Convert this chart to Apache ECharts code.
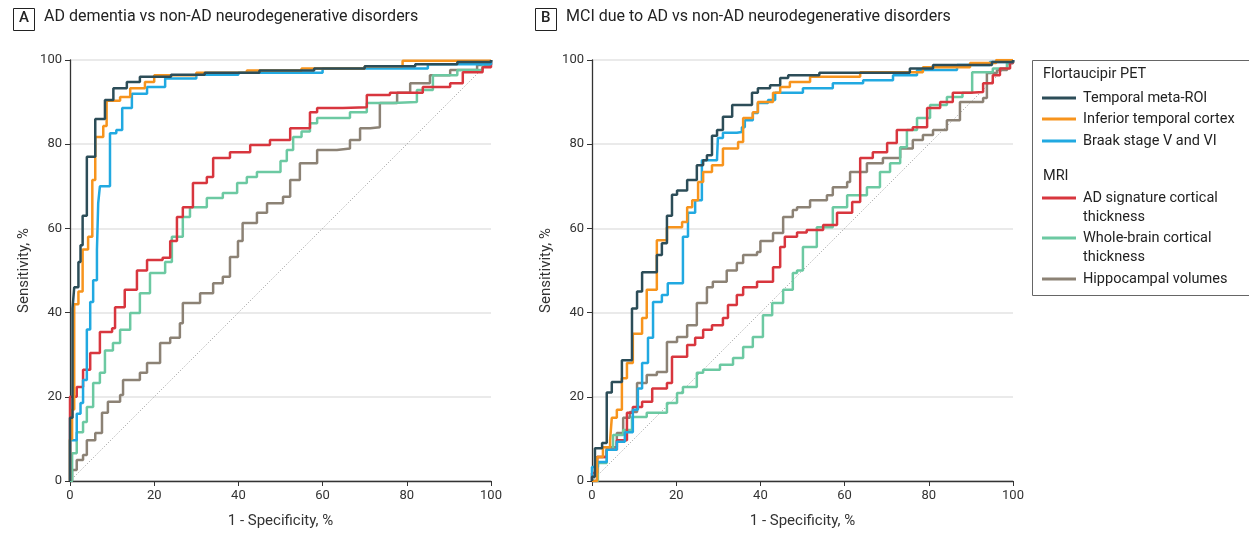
<!DOCTYPE html>
<html>
<head>
<meta charset="utf-8">
<script src="https://cdn.jsdelivr.net/npm/echarts@6/dist/echarts.min.js"></script>
<style>
  html, body { margin: 0; padding: 0; background: #fff; }
  #chart { width: 1249px; height: 539px; }
</style>
</head>
<body>
<div id="chart"></div>
<script>
// 曲线数据: [1 - specificity %, sensitivity %], 阶梯(step end)
var seriesNames = ['Temporal meta-ROI', 'Inferior temporal cortex', 'Braak stage V and VI',
  'AD signature cortical thickness', 'Whole-brain cortical thickness', 'Hippocampal volumes'];
var seriesColors = ['#2c4d58', '#f7941d', '#21a9e1', '#d8363e', '#6cc9a2', '#8c8275'];
var axisTicks = [0, 20, 40, 60, 80, 100];
var chanceLine = [[0, 0], [100, 100]];

// A: AD dementia vs non-AD
var darkA = [[0,0],[0,15],[0.6,41],[1,46],[2,52],[2.5,56],[3,63],[4,77],[6,86],[8.3,90.5],[10.3,93.3],[13.5,94.8],[16.6,96],[24,96.5],[32,97],[45,97.5],[58,98],[70,98.5],[82,99],[92,99.5],[100,100]];
var orangeA = [[0,0],[0,10],[0.5,17],[1,42],[2,45],[3,55],[4.3,58],[5.3,71.5],[6,81.7],[7.9,84.3],[8.7,90.3],[11.9,91.2],[14.3,93.3],[17.8,94.8],[20,96.4],[30,97],[42,97.5],[55,98],[70,98.5],[79,99.8],[100,100]];
var blueA = [[0,0],[0,9.7],[1.6,16],[2.5,18.5],[3.1,24],[4,36],[4.8,42.5],[5.5,47.7],[6.4,55],[6.7,66],[7.1,70],[9.5,82.6],[11,83.4],[12.4,88.6],[14.7,92],[18.3,93.6],[22.6,95.6],[30,96.5],[40,97],[60,98],[85,99],[100,100]];
var redA = [[0,0],[0,20],[1.6,22.3],[3.1,26.4],[4.8,30.4],[7.1,35.4],[10,36.3],[10.7,41.3],[13,45.4],[15.9,50],[18.3,52.5],[22,53],[23.8,57],[25.4,62.7],[26.8,65],[29.2,70.8],[32.5,72.2],[34,76.7],[38,78.1],[42.8,79.8],[47.5,81],[52.3,83.8],[57,87.6],[58.7,88.6],[64.8,88.8],[70.5,91.7],[76,92.2],[83.8,93.6],[90.3,94.5],[93.3,97.1],[98,98.3],[100,100]];
var greenA = [[0,0],[0.5,6.6],[1.6,11.6],[3.1,14],[4,17.6],[5.5,23.3],[7.1,25.7],[8.3,31],[10.2,32.8],[11.9,35.9],[14.3,39.9],[16.6,44.6],[19,49.4],[22.6,52],[24.2,58],[26.8,62.7],[28.5,65],[32.5,67.2],[36.3,68.4],[39.7,70.8],[42,72.2],[44.4,73.4],[50,76],[51.5,78.6],[53,81.7],[55,83],[57,85],[58.7,86.2],[66.5,87.6],[70.5,89.8],[76.7,90],[82.4,92.9],[86.2,96.4],[92,97.6],[98,99.3],[100,100]];
var brownA = [[0,0],[0.5,2.6],[1.6,5],[3.1,6.2],[4,9.7],[6,11.4],[7.6,16.2],[9,18.8],[11.9,20.4],[12.6,24],[16.6,25.7],[18.3,28],[21.4,32.8],[23.8,34],[26.1,37.5],[26.8,42.3],[30.9,44.6],[34,47],[36.3,48.5],[38,53.2],[39.9,57],[41,61.3],[44.4,63.7],[46.8,66],[50.6,67.5],[52.3,71.5],[54.6,75.5],[58.7,78.6],[63.4,79],[66.5,81],[68.9,83.8],[71.3,84],[73.6,89.8],[77.7,92.2],[80.8,94.5],[85.5,96.4],[90.3,97.6],[96.7,98.8],[100,100]];

// B: MCI due to AD vs non-AD
var darkB = [[0,0],[0,1],[0.7,7.8],[2.4,9],[3.5,21],[4.7,23.5],[7.1,28.7],[9.5,41],[10.7,45],[11.9,49.6],[15.4,53.7],[16.6,56.5],[17.8,63],[19,68],[20.2,69],[22.6,71.5],[24.9,75],[26.4,76.2],[27.3,77.4],[28.5,82],[29.7,83.4],[31.1,86.5],[33.3,89.3],[38,92.2],[39.4,93.3],[42.3,94],[44.7,95.7],[46.6,96.4],[54,97],[75.5,98],[81,98.8],[95,99.5],[100,100]];
var orangeB = [[0,0],[1.2,5.7],[2.6,8],[4.3,9.7],[4.7,15],[5.9,16.9],[7.1,24.4],[8.3,28],[9.7,35],[11.9,38.7],[13,45.4],[15.4,57.2],[17.8,60.3],[21.4,61.5],[22.6,65],[23.8,66.7],[25.2,71],[26.4,73.4],[28.5,75],[31.1,79],[34.7,80.5],[35.9,86.2],[38.2,87.6],[39.4,90],[43,92.2],[44.7,93.6],[47,94.8],[51.8,96],[63.7,97.1],[78.6,98.3],[89.8,99.3],[96,100],[100,100]];
var blueB = [[0,0],[0,3.3],[1.4,4.5],[3.5,7.4],[5.9,9.3],[7.8,11.6],[9.7,16.9],[10.9,22],[11.9,28],[13.3,34],[14.5,42.5],[16.6,44.2],[18,47],[21.6,58],[22.8,63.7],[24.5,66.7],[26.1,76.2],[29.7,76.7],[29.9,81.5],[31.1,82.7],[34.4,82.9],[35.6,84],[36.3,85.7],[38.2,87.4],[39.4,89.8],[41.8,90.5],[43.5,92.2],[50.1,93.3],[57.2,94.5],[64.4,95.2],[71.5,96.4],[77.2,97.6],[86.7,98.8],[94.5,99.5],[100,100]];
var redB = [[0,0],[0,1.9],[1.2,5.7],[3.5,7.4],[5.9,9.7],[8.3,16.2],[9.7,17.6],[11.9,18.8],[14.3,22],[17.8,23.3],[19,29.5],[22.6,32.3],[24.5,34],[26.4,35.9],[28.5,37],[31.1,38.7],[32.3,41.8],[34.4,44.2],[35.9,46],[39.2,47.3],[43,50.8],[44.7,55.6],[45.8,58],[48.7,59],[51,59.6],[54.9,60.8],[58.2,63.7],[61.8,66.3],[63.7,76.7],[66.7,78.1],[70.1,80.3],[72.4,83.4],[76.2,84],[79.6,88.6],[82.7,90],[85.7,92.2],[89.8,92.4],[92.9,94.5],[95.2,96.4],[96.9,98],[99.3,99.3],[100,100]];
var greenB = [[0,0],[1.4,4.3],[3.5,7.4],[5,10.9],[7.4,12.1],[9.5,15.2],[13,16.2],[17.8,18.5],[20.2,20.9],[21.6,22.3],[24.9,25.7],[26.4,26.4],[30.4,27.6],[33.5,29.2],[35.9,31.8],[38.2,34.2],[40.6,39.4],[42.8,42.3],[45.4,45.4],[47.7,49.4],[48.7,50],[50.1,55.6],[53.4,60.3],[57.2,65],[60.6,67.9],[65.3,69.8],[68.4,73.4],[70.8,75.5],[73.2,79.3],[74.8,83.4],[77.2,86.2],[80.3,89.3],[84.3,91.2],[88,92.2],[90.3,97.1],[95.2,98],[98.6,99.3],[100,100]];
var brownB = [[0,0],[1.2,5.7],[3.5,8],[5.9,11.4],[7.4,15],[9,16.4],[10.7,23.3],[13,25.2],[15.4,25.9],[17.8,33],[20.2,34.2],[22.6,37],[24.9,42.3],[27.3,46],[28.7,47.3],[32,50],[34.4,51.8],[35.9,53.7],[39.2,54.4],[40,57],[43,58.9],[45.4,62.7],[47.7,64.4],[48.7,65],[51.8,66.7],[55.8,67.9],[57.2,69.8],[60.6,71],[61.3,73.4],[65.3,75.5],[69.1,76.7],[73.2,79],[76.2,81],[78.6,82.2],[81,83.4],[84.3,85.7],[87.4,90],[92.9,91],[93.8,96.9],[96.2,97.6],[98.6,99.3],[100,100]];

var panelA = [darkA, orangeA, blueA, redA, greenA, brownA];
var panelB = [darkB, orangeB, blueB, redB, greenB, brownB];

var font = 'Roboto, "Noto Sans", sans-serif';
var textColor = '#333';

function makeX(idx) {
  return {
    type: 'value', gridIndex: idx, min: 0, max: 100, interval: 20,
    name: '1 - Specificity, %', nameLocation: 'middle', nameGap: 33,
    nameTextStyle: { fontFamily: font, fontSize: 15, color: textColor },
    axisLine: { show: true, lineStyle: { color: '#333', width: 1.3 } },
    axisTick: { show: true, length: 5, lineStyle: { color: '#333' } },
    axisLabel: { fontFamily: font, fontSize: 13, color: textColor, margin: 8 },
    splitLine: { show: false }
  };
}
function makeY(idx) {
  return {
    type: 'value', gridIndex: idx, min: 0, max: 100, interval: 20,
    name: 'Sensitivity, %', nameLocation: 'middle', nameGap: 38,
    nameTextStyle: { fontFamily: font, fontSize: 15, color: textColor },
    axisLine: { show: true, lineStyle: { color: '#333', width: 1.3 } },
    axisTick: { show: true, length: 5, lineStyle: { color: '#333' } },
    axisLabel: { fontFamily: font, fontSize: 13, color: textColor, margin: 8 },
    splitLine: { show: true, lineStyle: { color: '#e3e3e3', width: 1.5 } }
  };
}

var series = [];
[panelA, panelB].forEach(function (panel, p) {
  series.push({
    type: 'line', xAxisIndex: p, yAxisIndex: p, data: chanceLine,
    showSymbol: false, silent: true, z: 1,
    lineStyle: { color: '#999', width: 1, type: [1, 2] }
  });
  for (var i = 0; i < panel.length; i++) {
    series.push({
      name: seriesNames[i], type: 'line', step: 'end',
      xAxisIndex: p, yAxisIndex: p, data: panel[i],
      showSymbol: false, z: 10 - i,
      lineStyle: { color: seriesColors[i], width: 2.5 },
      itemStyle: { color: seriesColors[i] }
    });
  }
});

// 图例和标题 (graphic)
var graphics = [];
function panelTitle(x, letter, text) {
  graphics.push({ type: 'rect', left: x, top: 8, shape: { width: 21, height: 22 },
    style: { fill: '#fff', stroke: '#222', lineWidth: 1 } });
  graphics.push({ type: 'text', left: x + 6, top: 11,
    style: { text: letter, font: '500 15px ' + font, fill: '#222' } });
  graphics.push({ type: 'text', left: x + 31, top: 9,
    style: { text: text, font: '16px ' + font, fill: '#222' } });
}
panelTitle(13, 'A', 'AD dementia vs non-AD neurodegenerative disorders');
panelTitle(535, 'B', 'MCI due to AD vs non-AD neurodegenerative disorders');

graphics.push({ type: 'rect', left: 1032, top: 60, shape: { width: 230, height: 235 },
  style: { fill: '#fff', stroke: '#666', lineWidth: 1 } });
var legendRows = [
  { head: 'Flortaucipir PET', y: 76 },
  { idx: 0, lines: ['Temporal meta-ROI'], y: 98 },
  { idx: 1, lines: ['Inferior temporal cortex'], y: 119 },
  { idx: 2, lines: ['Braak stage V and VI'], y: 141 },
  { head: 'MRI', y: 178 },
  { idx: 3, lines: ['AD signature cortical', 'thickness'], y: 198 },
  { idx: 4, lines: ['Whole-brain cortical', 'thickness'], y: 238 },
  { idx: 5, lines: ['Hippocampal volumes'], y: 279 }
];
legendRows.forEach(function (r) {
  if (r.head) {
    graphics.push({ type: 'text', left: 1043, top: r.y - 9,
      style: { text: r.head, font: '14.5px ' + font, fill: '#222' } });
    return;
  }
  graphics.push({ type: 'line', shape: { x1: 1042, y1: r.y, x2: 1076, y2: r.y },
    style: { stroke: seriesColors[r.idx], lineWidth: 3 } });
  graphics.push({ type: 'text', left: 1083, top: r.y - 9,
    style: { text: r.lines.join('\n'), font: '14.5px ' + font, fill: '#222', lineHeight: 19 } });
});

var chart = echarts.init(document.getElementById('chart'), null, { renderer: 'canvas' });
chart.setOption({
  animation: false,
  backgroundColor: '#fff',
  grid: [
    { left: 70, top: 60, width: 421, height: 421 },
    { left: 592, top: 60, width: 421, height: 421 }
  ],
  xAxis: [makeX(0), makeX(1)],
  yAxis: [makeY(0), makeY(1)],
  series: series,
  graphic: graphics
});
</script>
</body>
</html>
